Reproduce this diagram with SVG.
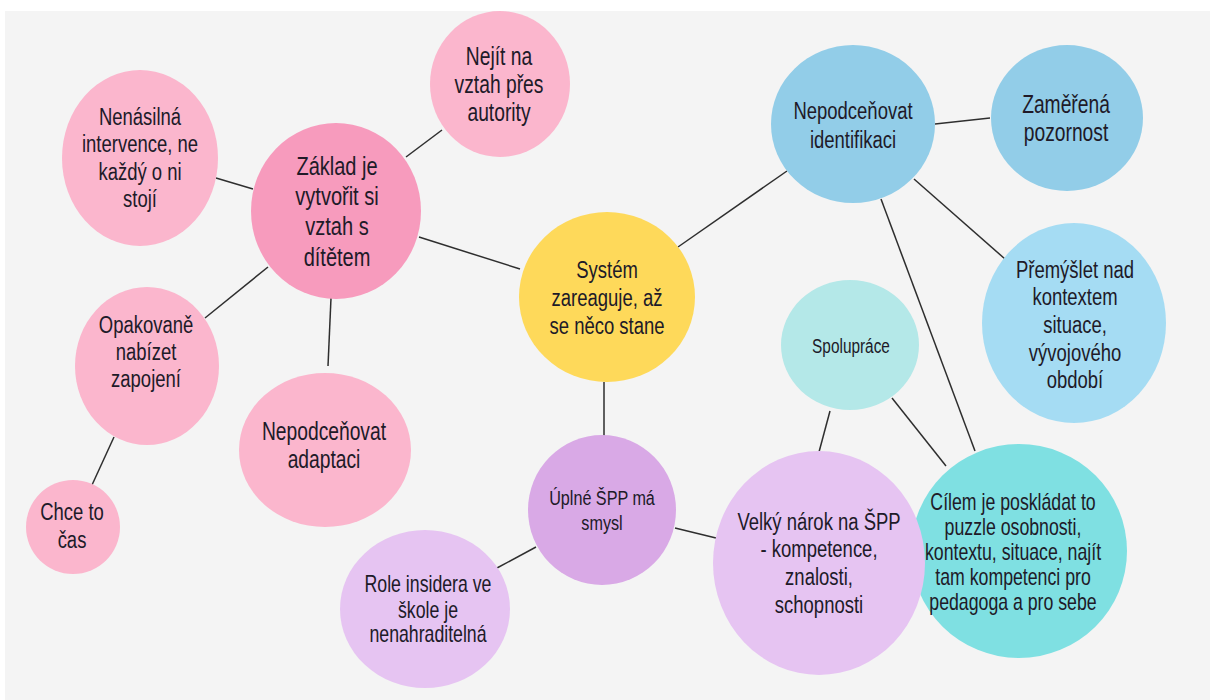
<svg xmlns="http://www.w3.org/2000/svg" width="1210" height="700" viewBox="0 0 1210 700">
<style>
.t{font-family:"Liberation Sans",Arial,sans-serif;fill:#201a28;text-anchor:middle}
.c line{stroke:#2e2e2e;stroke-width:1.5}
.pink{fill:#fbb6cd}
.pinkd{fill:#f79bbd}
.yel{fill:#fed95a}
.blue{fill:#92cde8}
.blue2{fill:#a5dcf3}
.teal1{fill:#b4e8e8}
.teal2{fill:#7fe0e2}
.pur{fill:#d9a9e6}
.lav{fill:#e6c4f2}
</style>
<rect width="1210" height="700" fill="#ffffff"/>
<rect x="5" y="11" width="1205" height="689" fill="#f4f4f4"/>
<g id="connectors" class="c">
<line x1="216" y1="178" x2="253" y2="189"/>
<line x1="442" y1="130" x2="406" y2="157"/>
<line x1="419" y1="237" x2="520" y2="269"/>
<line x1="268" y1="267" x2="205" y2="318"/>
<line x1="331" y1="298" x2="328" y2="366"/>
<line x1="114" y1="437" x2="92" y2="485"/>
<line x1="678" y1="247" x2="787" y2="171"/>
<line x1="935" y1="124" x2="990" y2="118"/>
<line x1="914" y1="179" x2="1005" y2="259"/>
<line x1="881" y1="199" x2="975" y2="451"/>
<line x1="604" y1="382" x2="604" y2="436"/>
<line x1="536" y1="547" x2="497" y2="568"/>
<line x1="675" y1="528" x2="716" y2="538"/>
<line x1="830" y1="411" x2="819" y2="452"/>
<line x1="892" y1="398" x2="946" y2="466"/>
</g>
<g id="n-nejit">
<ellipse class="pink" cx="500" cy="84" rx="70" ry="73"/>
<g transform="translate(499 0) scale(0.77 1)"><text class="t" font-size="25"><tspan x="0" y="65">Nejít na</tspan><tspan x="0" y="93">vztah přes</tspan><tspan x="0" y="121">autority</tspan></text></g>
</g>
<g id="n-nenasilna">
<ellipse class="pink" cx="140" cy="158" rx="78" ry="88"/>
<g transform="translate(140 0) scale(0.77 1)"><text class="t" font-size="24"><tspan x="0" y="125">Nenásilná</tspan><tspan x="0" y="152">intervence, ne</tspan><tspan x="0" y="180">každý o ni</tspan><tspan x="0" y="207">stojí</tspan></text></g>
</g>
<g id="n-zaklad">
<ellipse class="pinkd" cx="336" cy="211" rx="85" ry="88"/>
<g transform="translate(337 0) scale(0.77 1)"><text class="t" font-size="26"><tspan x="0" y="175">Základ je</tspan><tspan x="0" y="205">vytvořit si</tspan><tspan x="0" y="235">vztah s</tspan><tspan x="0" y="266">dítětem</tspan></text></g>
</g>
<g id="n-opakovane">
<ellipse class="pink" cx="147" cy="366" rx="72" ry="79"/>
<g transform="translate(146 0) scale(0.77 1)"><text class="t" font-size="24"><tspan x="0" y="333">Opakovaně</tspan><tspan x="0" y="360">nabízet</tspan><tspan x="0" y="387">zapojení</tspan></text></g>
</g>
<g id="n-chce">
<ellipse class="pink" cx="73" cy="527" rx="47" ry="47"/>
<g transform="translate(72 0) scale(0.77 1)"><text class="t" font-size="24"><tspan x="0" y="520">Chce to</tspan><tspan x="0" y="548">čas</tspan></text></g>
</g>
<g id="n-adaptace">
<ellipse class="pink" cx="325" cy="450" rx="86" ry="77"/>
<g transform="translate(324 0) scale(0.77 1)"><text class="t" font-size="25"><tspan x="0" y="440">Nepodceňovat</tspan><tspan x="0" y="468">adaptaci</tspan></text></g>
</g>
<g id="n-system">
<ellipse class="yel" cx="607" cy="297" rx="88" ry="85"/>
<g transform="translate(607 0) scale(0.77 1)"><text class="t" font-size="24"><tspan x="0" y="278">Systém</tspan><tspan x="0" y="306">zareaguje, až</tspan><tspan x="0" y="334">se něco stane</tspan></text></g>
</g>
<g id="n-identifikace">
<ellipse class="blue" cx="853" cy="124" rx="82" ry="79"/>
<g transform="translate(853 0) scale(0.77 1)"><text class="t" font-size="24"><tspan x="0" y="119">Nepodceňovat</tspan><tspan x="0" y="148">identifikaci</tspan></text></g>
</g>
<g id="n-pozornost">
<ellipse class="blue" cx="1067" cy="118" rx="76" ry="73"/>
<g transform="translate(1066 0) scale(0.77 1)"><text class="t" font-size="25"><tspan x="0" y="113">Zaměřená</tspan><tspan x="0" y="141">pozornost</tspan></text></g>
</g>
<g id="n-premyslet">
<ellipse class="blue2" cx="1074" cy="323" rx="92" ry="100"/>
<g transform="translate(1075 0) scale(0.77 1)"><text class="t" font-size="24"><tspan x="0" y="278">Přemýšlet nad</tspan><tspan x="0" y="305">kontextem</tspan><tspan x="0" y="333">situace,</tspan><tspan x="0" y="361">vývojového</tspan><tspan x="0" y="388">období</tspan></text></g>
</g>
<g id="n-spoluprace">
<ellipse class="teal1" cx="850" cy="345" rx="69" ry="65"/>
<g transform="translate(851 0) scale(0.77 1)"><text class="t" font-size="20"><tspan x="0" y="353">Spolupráce</tspan></text></g>
</g>
<g id="n-uplne">
<ellipse class="pur" cx="602" cy="510" rx="74" ry="75"/>
<g transform="translate(602 0) scale(0.77 1)"><text class="t" font-size="21"><tspan x="0" y="505">Úplné ŠPP má</tspan><tspan x="0" y="530">smysl</tspan></text></g>
</g>
<g id="n-role">
<ellipse class="lav" cx="425" cy="609" rx="85" ry="79"/>
<g transform="translate(428 0) scale(0.77 1)"><text class="t" font-size="23"><tspan x="0" y="592">Role insidera ve</tspan><tspan x="0" y="618">škole je</tspan><tspan x="0" y="642">nenahraditelná</tspan></text></g>
</g>
<g id="n-cilem">
<ellipse class="teal2" cx="1019" cy="551" rx="108" ry="107"/>
<g transform="translate(1013 0) scale(0.77 1)"><text class="t" font-size="23"><tspan x="0" y="510">Cílem je poskládat to</tspan><tspan x="0" y="535">puzzle osobnosti,</tspan><tspan x="0" y="560">kontextu, situace, najít</tspan><tspan x="0" y="585">tam kompetenci pro</tspan><tspan x="0" y="610">pedagoga a pro sebe</tspan></text></g>
</g>
<g id="n-velky">
<ellipse class="lav" cx="819" cy="563" rx="106" ry="112"/>
<g transform="translate(819 0) scale(0.77 1)"><text class="t" font-size="24"><tspan x="0" y="530">Velký nárok na ŠPP</tspan><tspan x="0" y="557">- kompetence,</tspan><tspan x="0" y="585">znalosti,</tspan><tspan x="0" y="613">schopnosti</tspan></text></g>
</g>
</svg>
